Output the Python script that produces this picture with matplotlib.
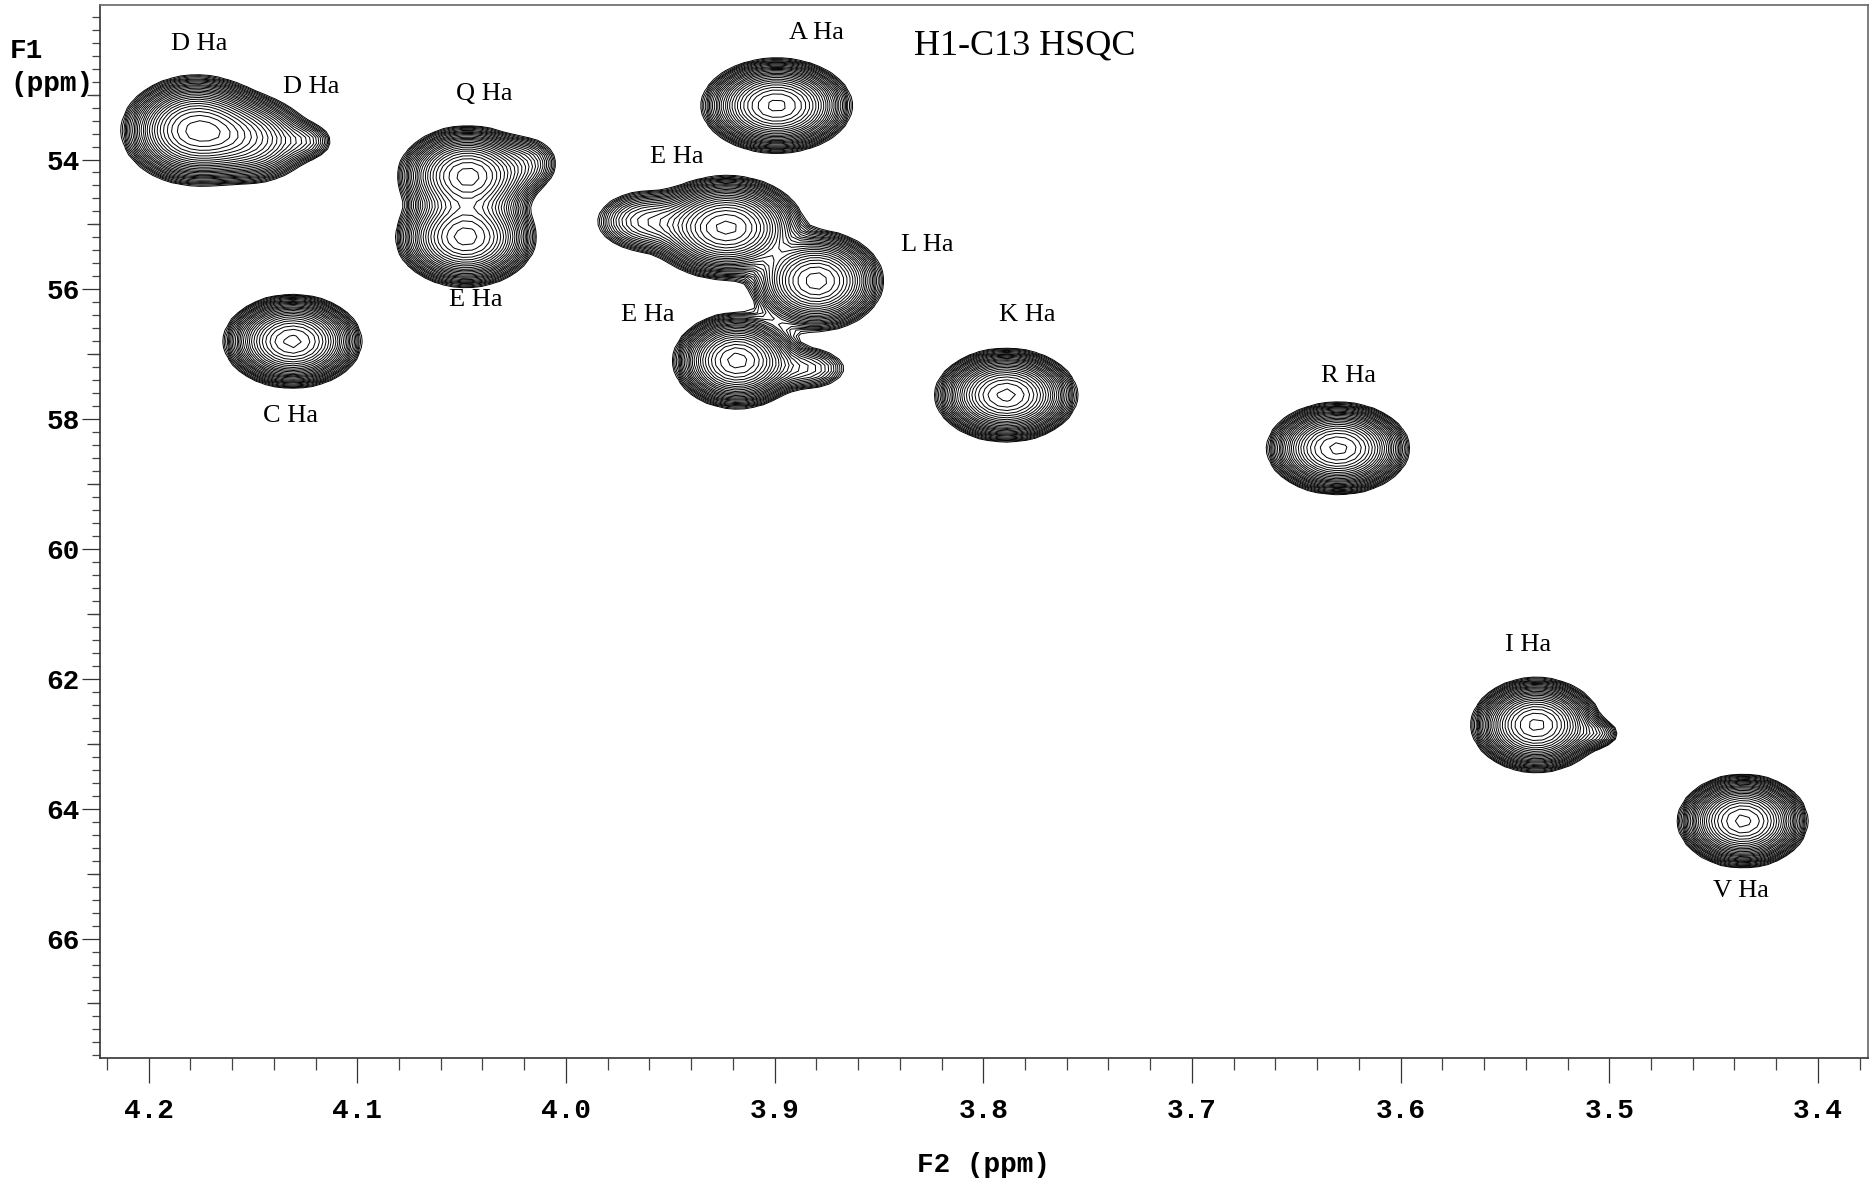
import numpy as np
import matplotlib.pyplot as plt
from matplotlib.ticker import MultipleLocator

# cross peaks of the HSQC spectrum: 1H shift, 13C shift, line widths, intensity
peak_h = [4.177, 4.150, 4.124, 4.047, 4.048, 4.018, 4.131, 3.899, 3.923, 3.962,
          3.880, 3.918, 3.884, 3.789, 3.630, 3.535, 3.506, 3.436]
peak_c = [53.55, 53.70, 53.72, 54.25, 55.20, 54.05, 56.80, 53.17, 55.05, 54.95,
          55.87, 57.10, 57.22, 57.63, 58.45, 62.71, 62.85, 64.19]
width_h = [0.036, 0.032, 0.018, 0.034, 0.034, 0.020, 0.033, 0.036, 0.037, 0.030,
           0.033, 0.031, 0.026, 0.034, 0.034, 0.031, 0.016, 0.031]
width_c = [0.85, 0.75, 0.40, 0.78, 0.78, 0.55, 0.72, 0.73, 0.80, 0.60,
           0.80, 0.75, 0.45, 0.72, 0.71, 0.73, 0.32, 0.72]
height = [1.0, 0.40, 0.10, 0.9, 0.9, 0.12, 1.0, 1.0, 1.0, 0.22,
          0.8, 0.9, 0.14, 1.0, 1.0, 1.0, 0.10, 1.0]

# assignments
label_text = ['D Ha', 'D Ha', 'Q Ha', 'E Ha', 'C Ha', 'A Ha', 'E Ha', 'L Ha',
              'E Ha', 'K Ha', 'R Ha', 'I Ha', 'V Ha']
label_h = [4.176, 4.122, 4.039, 4.043, 4.132, 3.880, 3.947, 3.827,
           3.961, 3.779, 3.625, 3.539, 3.437]
label_c = [52.22, 52.88, 52.99, 56.17, 57.95, 52.05, 53.96, 55.32,
           56.39, 56.39, 57.34, 61.48, 65.26]

base = 0.04      # lowest contour
factor = 1.13    # contour multiplier
shape = 1.1      # lineshape exponent

# spectrum grid
h = np.arange(3.37, 4.23, 0.0045)
c = np.arange(51.5, 68.3, 0.09)
H, C = np.meshgrid(h, c)
k = np.log(1 / base)
Z = np.zeros_like(H)
for x0, y0, sx, sy, a in zip(peak_h, peak_c, width_h, width_c, height):
    r2 = ((H - x0) / sx) ** 2 + ((C - y0) / sy) ** 2
    Z += a * np.exp(-k * r2 ** shape)

levels = base * factor ** np.arange(0, 32)

fig = plt.figure(figsize=(18.74, 11.89), dpi=100)
ax = fig.add_axes([100 / 1874, 1 - 1058 / 1189, 1768 / 1874, 1053 / 1189])
ax.contour(H, C, Z, levels=levels, colors='black', linewidths=0.7)

ax.set_xlim(4.2233, 3.376)
ax.set_ylim(67.84, 51.62)

serif = 'Liberation Serif'
mono = 'Liberation Mono'
for t, x, y in zip(label_text, label_h, label_c):
    ax.text(x, y, t, ha='center', va='center', fontsize=19, family=serif)

fig.text(1025 / 1874, 1 - 55 / 1189, 'H1-C13 HSQC', ha='center', va='baseline',
         fontsize=26, family=serif)

# axes and ticks
ax.set_xticks(np.arange(3.4, 4.25, 0.1))
ax.xaxis.set_minor_locator(MultipleLocator(0.02))
ax.set_yticks(np.arange(54, 67, 2))
ax.yaxis.set_minor_locator(MultipleLocator(0.2))
ax.tick_params(axis='x', which='major', length=18, width=0.9, pad=11, direction='out',
               labelsize=20, colors='#333333')
ax.tick_params(axis='x', which='minor', length=8.6, width=0.9, direction='out', colors='#444444')
ax.tick_params(axis='y', which='major', length=13, width=0.9, pad=1.5, direction='out',
               labelsize=20, colors='#333333')
ax.tick_params(axis='y', which='minor', length=5.8, width=0.9, direction='out', colors='#444444')
ax.set_xticklabels(['%.1f' % v for v in np.arange(3.4, 4.25, 0.1)])
ax.set_yticklabels(['%d' % v for v in np.arange(54, 67, 2)])
for lab in ax.get_xticklabels() + ax.get_yticklabels():
    lab.set_family(mono)
    lab.set_fontweight('bold')
    lab.set_color('black')

# medium ticks at the odd ppm values
sec = ax.secondary_yaxis('left')
sec.set_yticks(np.arange(53, 68, 2))
sec.tick_params(length=9.4, width=0.9, labelleft=False, colors='#333333')
sec.spines['left'].set_visible(False)

for side in ['left', 'bottom']:
    ax.spines[side].set_color('#333333')
    ax.spines[side].set_linewidth(1.2)
for side in ['top', 'right']:
    ax.spines[side].set_color('#666666')
    ax.spines[side].set_linewidth(1.2)

fig.text(984 / 1874, 1 - 1165 / 1189, 'F2 (ppm)', ha='center', va='center',
         fontsize=20, family=mono, fontweight='bold')
fig.text(10 / 1874, 1 - 51 / 1189, 'F1', ha='left', va='center',
         fontsize=20, family=mono, fontweight='bold')
fig.text(10 / 1874, 1 - 84 / 1189, '(ppm)', ha='left', va='center',
         fontsize=20, family=mono, fontweight='bold')

fig.savefig('out.png', dpi=100)
